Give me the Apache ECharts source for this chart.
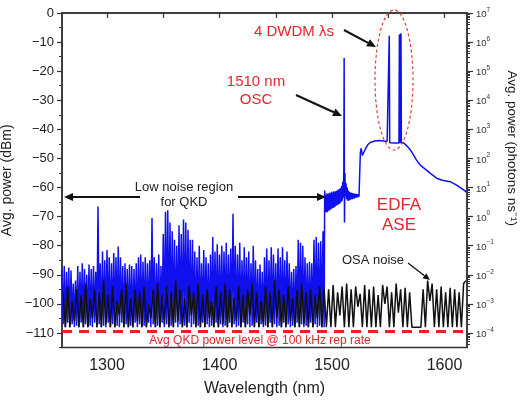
<!DOCTYPE html>
<html>
<head>
<meta charset="utf-8">
<script src="https://cdn.jsdelivr.net/npm/echarts@6/dist/echarts.min.js"></script>
<style>
  html, body { margin: 0; padding: 0; background: #fff; }
  #chart { width: 520px; height: 402px; }
</style>
</head>
<body>
<div id="chart"></div>
<script>
// QKD band trace, sampled every 1 nm from 1260 nm (dBm)
const noiseStartNm = 1260;
const blueNoiseDbm = [
  -88,-107, -87,-108, -89,-106.5, -87.5,-108, -88.5,-107,
  -93,-108, -92,-107.5, -87,-108, -89,-106.5, -86,-108,
  -88,-107, -90,-108, -86.5,-107.5, -88,-108, -87,-106.5,
  -89,-108, -66.5,-107, -86,-108, -82,-107.5, -85,-108,
  -81.5,-106.5, -84,-108, -86,-107, -82.5,-108, -84,-107.5,
  -80.3,-108, -84,-106.5, -87,-108, -86,-107, -88,-108,
  -86.5,-107.5, -87,-108, -88,-106.5, -86,-108, -84,-107,
  -83,-108, -85.5,-107.5, -84,-108, -86,-106.5, -85,-108,
  -70.5,-107, -84,-108, -86,-107.5, -83,-108, -87,-106.5,
  -76,-108, -68.3,-107, -67.8,-108, -72,-107.5, -75,-108,
  -78,-106.5, -80,-108, -73,-107, -76,-108, -71,-107.5,
  -72,-108, -74.5,-106.5, -78,-108, -78,-107, -82,-108,
  -84,-107.5, -80,-108, -86,-106.5, -81.5,-108, -84,-107,
  -86,-108, -83,-107.5, -77,-108, -82,-106.5, -79.5,-108,
  -83,-107, -80,-108, -82,-107.5, -79,-108, -83,-106.5,
  -81,-108, -69,-107, -80,-108, -83,-107.5, -79,-108,
  -85,-106.5, -80.5,-108, -84,-107, -82,-108, -86,-107.5,
  -80,-108, -85,-106.5, -88,-108, -86.5,-107, -89,-108,
  -84,-107.5, -81,-108, -85,-106.5, -80.5,-108, -83,-107,
  -86,-108, -81,-107.5, -84,-108, -80.5,-106.5, -85,-108,
  -82,-107, -86,-108, -89,-107.5, -88,-108, -87,-106.5,
  -78,-108, -79,-107, -80,-108, -84,-107.5, -86,-108,
  -85.5,-106.5, -86,-108, -78,-107, -77,-108, -79,-107.5,
  -78.5,-108, -75,-108
];

// EDFA band: OSC at 1510 nm, ASE pedestal and the four DWDM channels
const aseNm = [
  1493.5, 1494, 1494.5, 1495, 1495.5, 1496, 1496.5, 1497, 1497.5, 1498,
  1498.5, 1499, 1499.5, 1500, 1500.5, 1501, 1501.5, 1502, 1502.5, 1503,
  1503.5, 1504, 1504.5, 1505, 1505.5, 1506, 1506.5, 1507, 1507.5, 1508,
  1508.5, 1509, 1509.5, 1510, 1510.5, 1510.8, 1511.1, 1511.5, 1512, 1512.5,
  1513, 1513.5, 1514, 1514.5, 1515, 1515.5, 1516, 1516.5, 1517, 1517.5,
  1518, 1518.5, 1519, 1519.5, 1520, 1520.5, 1521, 1521.5, 1522, 1522.5,
  1523, 1523.5, 1524, 1524.6, 1525.2, 1526, 1527, 1528, 1530, 1532,
  1534, 1538, 1542, 1546, 1549, 1550.5, 1550.9, 1551.3, 1553, 1556,
  1559.5, 1559.9, 1560.3, 1560.6, 1561, 1561.3, 1561.7, 1563.5, 1566, 1569.5,
  1572, 1575, 1579, 1584, 1588, 1593, 1598, 1605, 1610, 1617,
  1620
];
const aseDbm = [
  -61, -68.5, -62.5, -68.5, -62, -68.5, -62.3, -68, -61.8, -67.8,
  -62, -67.5, -61.5, -67.2, -61.7, -67, -61.3, -66.8, -61.5, -66.5,
  -61.2, -66.2, -61, -66, -60.8, -65.7, -60.5, -65.5, -60.2, -65,
  -59.5, -64.5, -58, -63.5, -54, -15.5, -72, -55, -63, -58.5,
  -64, -60, -64.5, -61, -64.5, -61.5, -64.3, -61.7, -64, -61.8,
  -64, -62, -63.8, -62, -63.7, -62.2, -63.5, -62.2, -63.5, -62.3,
  -63.3, -62.4, -63.2, -62.8, -48, -46.5, -49, -48.5, -46.5, -45.2,
  -44.5, -44, -43.8, -44, -44.2, -44.3, -7.8, -44.6, -44.6, -44.7,
  -44.7, -7.5, -44.8, -7.2, -44.8, -7.0, -44.7, -44.6, -45.5, -47,
  -48.5, -50.5, -52.5, -54, -55.3, -56.8, -57.5, -58, -59, -60.8,
  -61.7
];

// OSA noise floor trace, sampled every 2 nm from 1261 nm (dBm)
const floorStartNm = 1261;
const floorDbm = [
  -96,-108, -94,-108, -99,-106, -95,-108, -97,-108,
  -93,-108, -98,-105, -95,-108, -96,-108, -92,-107,
  -97,-108, -94,-108, -99,-104, -95,-108, -93,-108,
  -98,-108, -95,-106, -96,-108, -94,-108, -100,-105,
  -95,-108, -93,-108, -97,-107, -94,-108, -96,-108,
  -92,-106, -95,-108, -98,-108, -94,-104, -96,-108,
  -93,-108, -97,-108, -95,-105, -99,-108, -94,-108,
  -96,-107, -93,-108, -95,-108, -98,-106, -94,-108,
  -97,-108, -95,-104, -93,-108, -96,-108, -99,-107,
  -94,-108, -96,-108, -92,-105, -95,-108, -97,-108,
  -94,-106, -98,-108, -95,-108, -93,-107, -96,-108,
  -95,-108, -97,-105, -94,-108, -95,
  -108, -95, -108, -93.5, -108, -96, -104, -94, -108, -93,
  -108, -95, -108, -94, -101, -96.5, -108, -93.5, -108, -95,
  -108, -94, -108, -97, -108, -93.5, -100, -94, -108, -96,
  -108, -93, -103, -95, -108, -94.5, -108, -96, -108, -108,
  -108, -108, -108, -95, -108, -92, -99, -93, -108, -95,
  -108, -94, -108, -96, -108, -94.5, -108, -95, -108, -96,
  -108, -93, -92
];

// average QKD signal level at 100 kHz repetition rate
const qkdLevelDbm = -109.5;

// axis ticks
const dbmTicks = [0, -10, -20, -30, -40, -50, -60, -70, -80, -90, -100, -110];
const dbmMinorTicks = [-5, -15, -25, -35, -45, -55, -65, -75, -85, -95, -105, -115];
const photonExponents = [7, 6, 5, 4, 3, 2, 1, 0, -1, -2, -3, -4];
const wavelengthLabels = [1300, 1400, 1500, 1600];
const wavelengthTicks = [1300, 1350, 1400, 1450, 1500, 1550, 1600];

const blueData = blueNoiseDbm.map((v, i) => [noiseStartNm + i, v])
  .concat(aseNm.map((w, i) => [w, aseDbm[i]]));
const floorData = floorDbm.map((v, i) => [floorStartNm + 2 * i, v]);

// log-spaced minor ticks on the photon-flux axis (10 dB per decade)
const photonMinorTicks = [];
for (let n = -5; n <= 6; n++) {
  for (let k = 2; k <= 9; k++) {
    const d = 10 * (n - 7) + 10 * Math.log10(k);
    if (d >= -115 && d <= 0) photonMinorTicks.push(d);
  }
}

const FONT = 'Liberation Sans, Arial, sans-serif';
const RED = '#e3262d';
const AXIS = '#333';

function sup(n) {
  return n < 0 ? '\u2212' + (-n) : String(n);
}

function arrow(x1, y1, x2, y2, width, head) {
  const a = Math.atan2(y2 - y1, x2 - x1);
  const bx = x2 - head * Math.cos(a), by = y2 - head * Math.sin(a);
  const s = head * 0.45;
  return [
    { type: 'line', shape: { x1: x1, y1: y1, x2: bx, y2: by },
      style: { stroke: '#111', lineWidth: width }, z: 50 },
    { type: 'polygon', shape: { points: [[x2, y2],
        [bx + s * Math.sin(a), by - s * Math.cos(a)],
        [bx - s * Math.sin(a), by + s * Math.cos(a)]] },
      style: { fill: '#111' }, z: 50 }
  ];
}

function label(text, x, y, size, color, lh) {
  return { type: 'text', x: x, y: y, z: 60,
    style: { text: text, fill: color, font: size + 'px ' + FONT,
      align: 'center', verticalAlign: 'middle', lineHeight: lh || size + 2 } };
}

const chart = echarts.init(document.getElementById('chart'), null, { renderer: 'canvas' });

const option = {
  animation: false,
  backgroundColor: '#fff',
  textStyle: { fontFamily: FONT },
  grid: {
    left: 62, top: 13, width: 405, height: 334.5,
    show: true, borderColor: AXIS, borderWidth: 1.5,
    containLabel: false, outerBoundsMode: 'none'
  },
  xAxis: [{
    type: 'value', min: 1260, max: 1620,
    name: 'Wavelength (nm)', nameLocation: 'middle', nameGap: 33,
    nameTextStyle: { fontSize: 16, color: '#222', fontFamily: FONT },
    axisLine: { lineStyle: { color: AXIS, width: 1.5 } },
    axisTick: { customValues: wavelengthTicks, length: 5, lineStyle: { color: AXIS, width: 1.2 } },
    axisLabel: { customValues: wavelengthLabels, fontSize: 16, color: '#222', margin: 10, fontFamily: FONT,
      formatter: v => String(v) },
    splitLine: { show: false }
  }],
  yAxis: [{
    type: 'value', min: -115, max: 0, position: 'left',
    name: 'Avg. power (dBm)', nameLocation: 'middle', nameGap: 44, nameRotate: 90,
    nameTextStyle: { fontSize: 14, color: '#222', fontFamily: FONT },
    axisLine: { show: true, lineStyle: { color: AXIS, width: 1.5 } },
    axisTick: { customValues: dbmTicks, length: 5, lineStyle: { color: AXIS, width: 1.2 } },
    axisLabel: { customValues: dbmTicks, fontSize: 13, color: '#222', margin: 8, fontFamily: FONT,
      formatter: v => v < 0 ? '\u2212' + (-v) : String(v) },
    splitLine: { show: false }
  }, {
    type: 'value', min: -115, max: 0, position: 'left',
    axisLine: { show: false },
    axisTick: { customValues: dbmMinorTicks, length: 3, lineStyle: { color: AXIS, width: 1 } },
    axisLabel: { show: false },
    splitLine: { show: false }
  }, {
    type: 'value', min: -115, max: 0, position: 'right',
    name: 'Avg. power (photons ns\u207B\u00B9)', nameLocation: 'middle', nameGap: 29, nameRotate: -90,
    nameTextStyle: { fontSize: 13.5, color: '#222', fontFamily: FONT, padding: [0, 64, 0, 0] },
    axisLine: { show: true, lineStyle: { color: AXIS, width: 1.5 } },
    axisTick: { customValues: dbmTicks, length: 6, lineStyle: { color: AXIS, width: 1.2 } },
    axisLabel: {
      customValues: dbmTicks, margin: 9, color: '#333', fontFamily: FONT,
      formatter: v => '{b|10}{s|' + sup(photonExponents[dbmTicks.indexOf(v)]) + '}',
      rich: {
        b: { fontSize: 9.5, color: '#333', fontFamily: FONT, lineHeight: 13, verticalAlign: 'bottom' },
        s: { fontSize: 6.5, color: '#333', fontFamily: FONT, lineHeight: 13, verticalAlign: 'top' }
      }
    },
    splitLine: { show: false }
  }, {
    type: 'value', min: -115, max: 0, position: 'right',
    axisLine: { show: false },
    axisTick: { customValues: photonMinorTicks, length: 3, lineStyle: { color: AXIS, width: 1 } },
    axisLabel: { show: false },
    splitLine: { show: false }
  }],
  series: [{
    name: 'Spectrum', type: 'line', data: blueData,
    xAxisIndex: 0, yAxisIndex: 0,
    showSymbol: false, symbol: 'none',
    lineStyle: { color: '#1010ee', width: 1.5 }, z: 2
  }, {
    name: 'OSA noise', type: 'line', data: floorData,
    xAxisIndex: 0, yAxisIndex: 0,
    showSymbol: false, symbol: 'none',
    lineStyle: { color: '#111', width: 1.5 }, z: 3,
    markLine: {
      silent: true, symbol: 'none', label: { show: false },
      lineStyle: { color: '#f21d1d', width: 3, type: [10, 7] },
      data: [{ yAxis: qkdLevelDbm }]
    }
  }],
  graphic: [
    // dashed ellipse round the DWDM channels
    { type: 'ellipse', shape: { cx: 394, cy: 80, rx: 19, ry: 70 }, z: 40,
      style: { fill: null, stroke: '#d9443a', lineWidth: 1.2, lineDash: [3, 2.5] } },
    ...arrow(344, 30, 376, 47, 2, 9),
    ...arrow(296, 95, 342, 116, 2, 9),
    ...arrow(140, 197, 64, 197, 2, 9),
    ...arrow(238, 197, 326, 197, 2, 9),
    ...arrow(408, 263, 430, 280, 1.3, 7),
    label('4 DWDM \u03BBs', 294, 32, 15, RED),
    label('1510 nm\nOSC', 256, 91, 15, RED, 18),
    label('EDFA\nASE', 399, 215, 17, RED, 20),
    label('Low noise region\nfor QKD', 184, 195, 13, '#222', 15),
    label('OSA noise', 373, 260, 13, '#222'),
    label('Avg QKD power level @ 100 kHz rep rate', 260, 341, 12, RED)
  ]
};

chart.setOption(option);
</script>
</body>
</html>
